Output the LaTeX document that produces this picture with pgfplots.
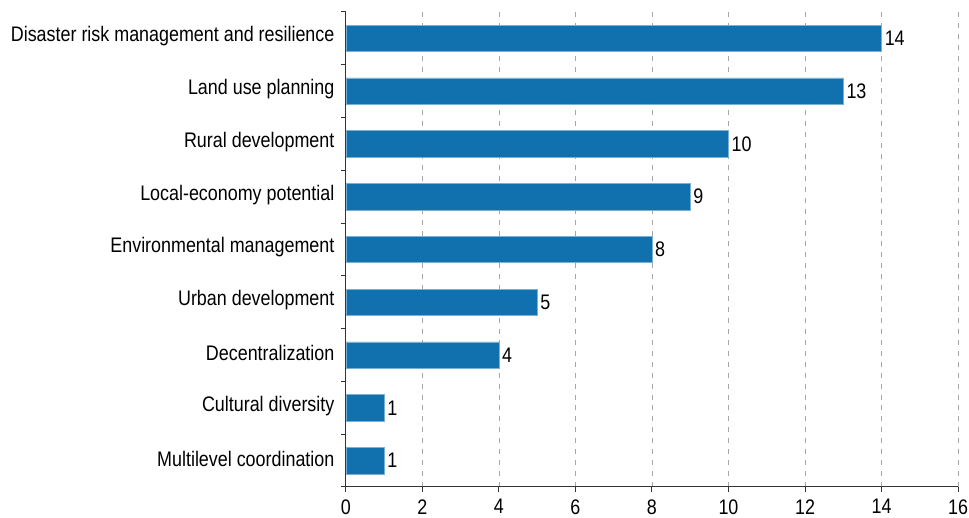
\documentclass[border=0pt]{standalone}
\usepackage{fontspec}
\setmainfont{Liberation Sans}[FakeStretch=0.85]
\usepackage{pgfplots}
\pgfplotsset{compat=1.18}
\definecolor{barblue}{HTML}{1170AE}
\definecolor{axisc}{HTML}{333333}
\begin{document}
\begin{tikzpicture}
\begin{axis}[
  scale only axis, width=616pt, height=478pt,
  xbar, bar width=0.5,
  xmin=0, xmax=16, xtick={0,2,...,16},
  ymin=-0.5, ymax=8.5,
  ytick={-0.5,0.5,...,8.5}, yticklabels={},
  extra y ticks={0,1,2,3,4,5,6,7,8},
  extra y tick labels={Multilevel coordination, Cultural diversity, Decentralization, Urban development, Environmental management, Local-economy potential, Rural development, Land use planning, Disaster risk management and resilience},
  extra y tick style={major tick length=0pt, yticklabel style={xshift=-8pt, yshift=2pt}},
  xticklabel style={yshift=-4pt},
  axis x line*=bottom, axis y line*=left,
  axis line style={axisc, line width=1pt},
  tick style={axisc, line width=1pt},
  tick align=outside, major tick length=5pt,
  xmajorgrids,
  major grid style={gray!70, line width=0.8pt, dash pattern=on 5pt off 6pt},
  tick label style={font=\fontsize{21.2}{24}\selectfont, text=black},
  /pgf/number format/assume math mode=true,
  nodes near coords,
  nodes near coords align={horizontal},
  every node near coord/.append style={font=\fontsize{21.2}{24}\selectfont, text=black, inner sep=3pt},
]
\addplot[fill=barblue, draw=barblue!55!white, line width=0.5pt] coordinates {
(1,0) (1,1) (4,2) (5,3) (8,4) (9,5) (10,6) (13,7) (14,8)};
\end{axis}
\pgfresetboundingbox
\path ([xshift=-348pt,yshift=-31pt]current axis.south west) rectangle ([xshift=11pt,yshift=12pt]current axis.north east);
\end{tikzpicture}
\end{document}
